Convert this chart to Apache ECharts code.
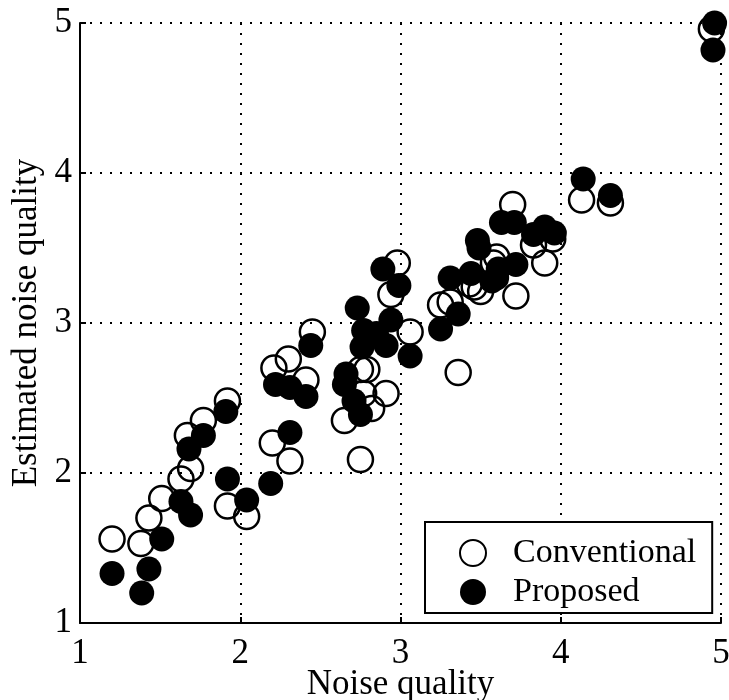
<!DOCTYPE html>
<html>
<head>
<meta charset="utf-8">
<script src="https://cdn.jsdelivr.net/npm/echarts@6/dist/echarts.min.js"></script>
<style>
html, body { margin: 0; padding: 0; background: #fff; }
#chart { width: 729px; height: 700px; }
</style>
</head>
<body>
<div id="chart"></div>
<script>
// values: [noise quality, estimated noise quality]
const conventional = [
  [1.20, 1.56], [1.38, 1.53], [1.43, 1.70], [1.51, 1.83], [1.63, 1.96], [1.69, 2.03],
  [1.67, 2.25], [1.77, 2.35], [1.92, 1.78], [2.04, 1.71], [2.20, 2.20], [2.31, 2.08],
  [1.92, 2.48], [2.21, 2.70], [2.30, 2.76], [2.45, 2.94], [2.41, 2.62], [2.98, 3.40],
  [2.94, 3.19], [3.06, 2.94], [2.65, 2.35], [2.75, 2.69], [2.79, 2.69], [2.91, 2.53],
  [2.82, 2.43], [2.77, 2.53], [2.75, 2.09], [3.36, 2.67], [3.70, 3.79], [4.13, 3.82],
  [3.60, 3.44], [3.90, 3.40], [3.83, 3.52], [3.72, 3.18], [3.58, 3.40], [3.50, 3.21],
  [3.46, 3.24], [3.43, 3.26], [3.25, 3.12], [3.31, 3.14], [3.95, 3.56], [4.94, 4.96],
  [4.31, 3.80]
]
const proposed = [
  [1.20, 1.33], [1.385, 1.20], [1.43, 1.36], [1.51, 1.56], [1.63, 1.81], [1.69, 1.72],
  [1.68, 2.16], [1.77, 2.25], [1.91, 2.41], [1.92, 1.96], [2.04, 1.82], [2.19, 1.93],
  [2.31, 2.27], [2.22, 2.59], [2.31, 2.57], [2.41, 2.51], [2.44, 2.85], [2.89, 3.36],
  [2.99, 3.25], [2.73, 3.10], [2.77, 2.95], [2.76, 2.84], [2.94, 3.02], [2.91, 2.85],
  [2.85, 2.93], [3.06, 2.78], [2.66, 2.66], [2.65, 2.59], [2.71, 2.48], [2.75, 2.39],
  [3.25, 2.96], [3.36, 3.06], [3.31, 3.30], [3.44, 3.33], [3.48, 3.55], [3.49, 3.50],
  [3.63, 3.67], [3.71, 3.67], [3.83, 3.59], [3.90, 3.64], [3.96, 3.60], [3.72, 3.39],
  [3.61, 3.36], [3.60, 3.30], [3.57, 3.28], [4.14, 3.96], [4.31, 3.85], [4.96, 5.00],
  [4.95, 4.82]
]
const seriesNames = ['Conventional', 'Proposed']

const font = 'Liberation Serif'
const chart = echarts.init(document.getElementById('chart'))

const axisCommon = {
  type: 'value',
  min: 1,
  max: 5,
  interval: 1,
  nameLocation: 'middle',
  nameMoveOverlap: false,
  nameTextStyle: { fontFamily: font, fontSize: 35, color: '#000' },
  axisLine: { show: true, onZero: false, lineStyle: { color: '#000', width: 2 } },
  axisTick: { show: true, inside: true, length: 6, lineStyle: { color: '#000', width: 2 } },
  axisLabel: { fontFamily: font, fontSize: 35, color: '#000' },
  splitLine: { show: true, lineStyle: { color: '#000', type: [2, 8], width: 2 } }
}

const option = {
  animation: false,
  backgroundColor: '#fff',
  grid: { left: 80, right: 8, top: 23, bottom: 77, outerBoundsMode: 'none', containLabel: false },
  xAxis: Object.assign({}, axisCommon, {
    name: 'Noise quality',
    nameGap: 44,
    axisLabel: Object.assign({}, axisCommon.axisLabel, { margin: 13 })
  }),
  yAxis: Object.assign({}, axisCommon, {
    name: 'Estimated noise quality',
    nameGap: 36,
    axisLabel: Object.assign({}, axisCommon.axisLabel, { margin: 8 })
  }),
  legend: {
    orient: 'vertical',
    left: 425,
    top: 522,
    data: seriesNames,
    backgroundColor: '#fff',
    borderColor: '#000',
    borderWidth: 2,
    borderRadius: 0,
    padding: [14, 16, 4, 34],
    itemGap: 5,
    itemWidth: 26,
    itemHeight: 26,
    textStyle: { fontFamily: font, fontSize: 34, color: '#000', lineHeight: 33, padding: [0, 0, 0, 22] }
  },
  series: [
    {
      name: seriesNames[0],
      type: 'scatter',
      symbol: 'circle',
      symbolSize: 25,
      data: conventional,
      itemStyle: { color: 'rgba(255,255,255,0)', borderColor: '#000', borderWidth: 2.5, opacity: 1 },
      z: 2
    },
    {
      name: seriesNames[1],
      type: 'scatter',
      symbol: 'circle',
      symbolSize: 25,
      data: proposed,
      itemStyle: { color: '#000', opacity: 1 },
      z: 3
    }
  ]
}

chart.setOption(option)
</script>
</body>
</html>
